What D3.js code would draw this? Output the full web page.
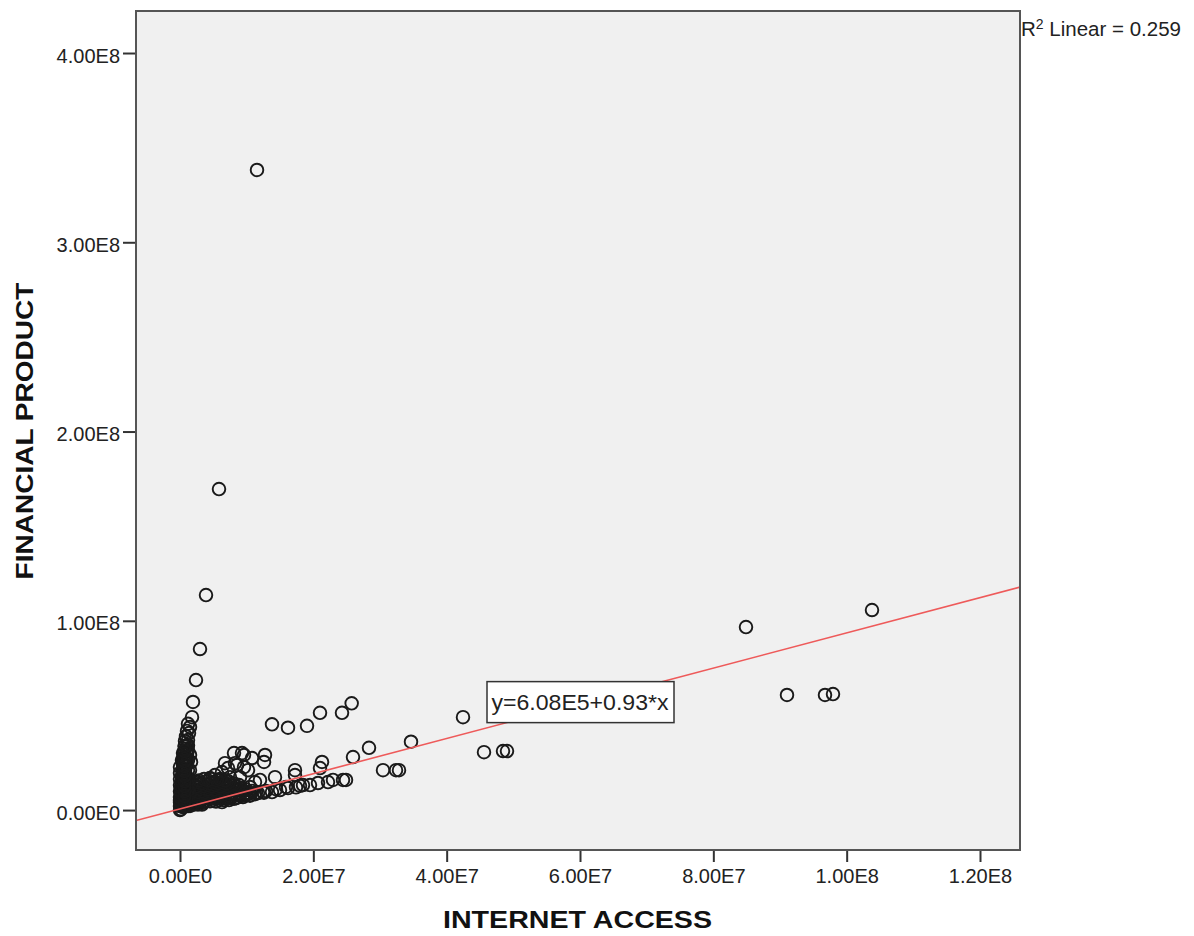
<!DOCTYPE html>
<html>
<head>
<meta charset="utf-8">
<script src="https://cdn.jsdelivr.net/npm/d3@7"></script>
<style>
  body { margin: 0; background: #fff; }
  text { font-family: "Liberation Sans", Arial, sans-serif; }
</style>
</head>
<body>
<svg id="chart" width="1194" height="936"></svg>
<script>
// values in millions: [internet access, financial product]
const outerCases = [
  [11.55, 338.2], [5.85, 169.6], [3.9, 113.6], [3.0, 85.1], [2.4, 68.7], [1.95, 57.1],
  [84.9, 96.7], [103.8, 105.7], [91.05, 60.8], [96.75, 60.8], [97.95, 61.3],
  [42.45, 49.1], [45.6, 30.6], [48.45, 31.2], [49.05, 31.2], [34.65, 36.1], [28.35, 32.9],
  [25.95, 28.0], [30.45, 21.1], [32.4, 21.1], [32.85, 21.1], [25.75, 56.4], [24.3, 51.4],
  [21.0, 51.4], [19.05, 44.5], [16.2, 43.5], [13.8, 45.3], [22.95, 15.9], [24.45, 15.9],
  [24.9, 15.9], [21.3, 25.4], [21.0, 22.2], [17.25, 21.1], [17.25, 18.5], [14.25, 17.4],
  [18.45, 13.2], [19.5, 13.2], [16.2, 11.6], [15.0, 10.6], [13.8, 9.5], [12.45, 9.5],
  [11.25, 14.8], [12.0, 15.9], [10.5, 12.2], [11.7, 9.0], [10.5, 7.9], [9.45, 6.9],
  [8.4, 6.3], [7.35, 5.3], [6.3, 4.2], [17.4, 12.0], [20.7, 14.3],
  [9.9, 8.0], [12.9, 10.1], [14.4, 11.0], [15.9, 12.2], [18.0, 12.8], [22.2, 14.8]
];
const spineCases = [
  [1.8, 49.1], [1.5, 43.9], [1.35, 40.7], [1.2, 37.0], [1.2, 34.3], [1.05, 31.7], [1.05, 29.6],
  [0.9, 27.5], [0.9, 25.4], [0.9, 23.2], [0.75, 21.1], [0.75, 19.6], [0.75, 18.0], [0.6, 16.4],
  [0.6, 14.8], [0.6, 13.2], [0.45, 11.6], [0.45, 10.0], [0.45, 8.5], [0.3, 6.9], [0.3, 5.3],
  [0.3, 3.7], [0.15, 2.1], [0.15, 0.5], [0.3, 26.4], [0.45, 21.1], [0.3, 15.9], [0.15, 10.6],
  [0, 5.3], [0, 0], [0.15, 7.9], [0.6, 23.8], [1.05, 34.3], [0, 2.1], [0, 4.2], [0.15, 6.3],
  [0.15, 9.0], [0.15, 12.2], [0.3, 14.3], [0.3, 18.0], [0.45, 24.3], [0.6, 27.5], [0.6, 30.7],
  [0.75, 33.8], [1.35, 10.6], [1.5, 15.9], [1.5, 21.1], [1.65, 25.4], [1.5, 29.1],
  [0.45, 1.6], [0.45, 4.8], [0.45, 7.9], [0.45, 11.1], [0.45, 14.3], [0.45, 17.4], [0.45, 20.6],
  [0.45, 23.8], [0.45, 26.9], [0.45, 30.1], [0.9, 2.6], [0.9, 5.8], [0.9, 9.0], [0.9, 12.2],
  [0.9, 15.3], [0.9, 18.5], [0, 6.9], [0, 10.0], [0, 13.2], [0, 16.4], [0, 19.6], [0, 22.7],
  [0.75, 36.5], [0.9, 39.0], [1.05, 41.8], [1.2, 45.6],
  [1.2, 10.6], [1.2, 15.9], [1.2, 21.1], [1.2, 26.4], [1.2, 31.7],
  [0.68, 2.1], [0.68, 4.8], [0.68, 7.4], [0.68, 10.0], [0.68, 12.7], [0.68, 15.3], [0.68, 18.0],
  [0.68, 20.6], [0.68, 23.2], [0.68, 25.9], [0.68, 28.5], [0.68, 31.2], [0.68, 33.8]
];
const ringCases = [
  [8.1, 30.1], [9.3, 30.1], [10.8, 27.5], [12.75, 29.1], [12.6, 25.4], [6.75, 24.8],
  [8.25, 24.8], [9.6, 22.7], [6.3, 20.1], [7.5, 17.4], [9.0, 17.4], [9.6, 29.1],
  [8.55, 23.8], [7.2, 22.2], [10.2, 21.1], [5.25, 18.5], [4.5, 16.9], [6.0, 15.9]
];
const wedgeCases = [
  [0.6, 2.1], [1.2, 2.1], [1.5, 2.2],
  [0.3, 2.9], [0.9, 2.9], [1.5, 3.0], [2.1, 2.9], [2.7, 3.0], [3.3, 2.9],
  [0.9, 3.7], [1.65, 3.7], [2.55, 3.6], [3.45, 3.8],
  [0.45, 4.5], [1.2, 4.5], [1.95, 4.6], [2.7, 4.5], [3.6, 4.5], [4.5, 4.6], [5.4, 4.5],
  [0.75, 5.3], [1.5, 5.2], [2.25, 5.3], [3.15, 5.4], [4.05, 5.2], [4.95, 5.3], [5.85, 5.4], [6.6, 5.2],
  [0.6, 6.1], [1.35, 6.1], [2.25, 6.2], [3.3, 6.1], [4.35, 6.1], [5.4, 6.2], [6.3, 6.1], [7.2, 6.1], [8.1, 6.0],
  [1.05, 6.9], [1.95, 6.8], [2.85, 6.9], [3.9, 7.0], [4.8, 6.8], [5.7, 6.9], [6.75, 6.9], [7.65, 7.0], [8.7, 6.8],
  [0.75, 7.7], [1.5, 7.7], [2.4, 7.8], [3.3, 7.7], [4.2, 7.7], [5.1, 7.8], [6.15, 7.7], [7.2, 7.7], [8.25, 7.8], [9.45, 7.7], [10.5, 7.6],
  [0.9, 8.4], [1.8, 8.5], [2.7, 8.4], [3.6, 8.5], [4.65, 8.4], [5.55, 8.6], [6.6, 8.4], [7.8, 8.5], [9.0, 8.4], [10.2, 8.5], [11.25, 8.4],
  [0.9, 9.3], [1.8, 9.2], [2.85, 9.3], [3.75, 9.2], [4.8, 9.3], [5.85, 9.2], [6.9, 9.3], [7.95, 9.2], [9.0, 9.3], [10.2, 9.2], [11.4, 9.3], [12.6, 9.2],
  [1.2, 10.0], [2.25, 10.1], [3.3, 10.0], [4.2, 10.1], [5.25, 10.0], [6.3, 10.1], [7.35, 10.0], [8.4, 10.1], [9.6, 10.0], [10.8, 10.1],
  [1.05, 10.8], [2.1, 10.8], [3.0, 10.9], [4.05, 10.8], [5.1, 10.8], [6.3, 10.9], [7.5, 10.8], [8.7, 10.8], [9.9, 10.9],
  [1.5, 11.6], [2.55, 11.7], [3.6, 11.6], [4.65, 11.7], [5.85, 11.6], [6.9, 11.7], [8.1, 11.6], [9.15, 11.7],
  [1.35, 12.4], [2.4, 12.4], [3.6, 12.5], [4.8, 12.4], [6.0, 12.4], [7.2, 12.5], [8.4, 12.4],
  [1.95, 13.2], [3.0, 13.3], [4.2, 13.2], [5.4, 13.2], [6.6, 13.3], [7.65, 13.2], [8.85, 13.2],
  [1.95, 14.0], [3.15, 14.0], [4.5, 14.1], [5.7, 14.0], [6.9, 14.0], [8.1, 14.1],
  [2.7, 14.8], [3.9, 14.9], [5.1, 14.8], [6.3, 14.8], [7.35, 14.9],
  [2.85, 15.6], [4.2, 15.6], [5.55, 15.7], [6.75, 15.6],
  [3.6, 16.4], [4.8, 16.3], [6.0, 16.4]
];

const xTicks = [0, 2e7, 4e7, 6e7, 8e7, 1e8, 1.2e8];
const xTickLabels = ["0.00E0", "2.00E7", "4.00E7", "6.00E7", "8.00E7", "1.00E8", "1.20E8"];
const yTicks = [0, 1e8, 2e8, 3e8, 4e8];
const yTickLabels = ["0.00E0", "1.00E8", "2.00E8", "3.00E8", "4.00E8"];
const fitIntercept = 6.08e5;
const fitSlope = 0.93;
const rSquared = "0.259";
const fitLabel = "y=6.08E5+0.93*x";

const cases = outerCases.concat(ringCases, wedgeCases, spineCases);

const plot = { left: 136, right: 1020, top: 11, bottom: 850 };

const svg = d3.select("#chart");

const x = d3.scaleLinear().domain([-6.6e6, 1.26e8]).range([plot.left, plot.right]);
const y = d3.scaleLinear().domain([-2.11e7, 4.222e8]).range([plot.bottom, plot.top]);

svg.append("defs").append("clipPath").attr("id", "plotClip")
  .append("rect")
  .attr("x", plot.left).attr("y", plot.top)
  .attr("width", plot.right - plot.left).attr("height", plot.bottom - plot.top);

// plot background
svg.append("rect")
  .attr("x", plot.left).attr("y", plot.top)
  .attr("width", plot.right - plot.left).attr("height", plot.bottom - plot.top)
  .attr("fill", "#f0f0f0");

// axes
const yAxis = svg.append("g")
  .attr("transform", `translate(${plot.left},0)`)
  .call(d3.axisLeft(y).tickValues(yTicks).tickFormat((d, i) => yTickLabels[i]).tickSize(13).tickPadding(3));
const xAxis = svg.append("g")
  .attr("transform", `translate(0,${plot.bottom})`)
  .call(d3.axisBottom(x).tickValues(xTicks).tickFormat((d, i) => xTickLabels[i]).tickSize(12).tickPadding(7));

[xAxis, yAxis].forEach(a => {
  a.select(".domain").remove();
  a.selectAll(".tick line").attr("stroke", "#333").attr("stroke-width", 2);
  a.selectAll(".tick text").attr("font-size", 20).attr("fill", "#222")
    .attr("font-family", "'Liberation Sans', Arial, sans-serif");
});
yAxis.selectAll(".tick text").attr("dy", "0.45em");

const g = svg.append("g").attr("clip-path", "url(#plotClip)");

// points
g.append("g")
  .selectAll("circle")
  .data(cases)
  .enter()
  .append("circle")
  .attr("cx", d => x(d[0] * 1e6))
  .attr("cy", d => y(d[1] * 1e6))
  .attr("r", 6.3)
  .attr("fill", "none")
  .attr("stroke", "#1a1a1a")
  .attr("stroke-width", 1.9);

// fit line
const [x0, x1] = x.domain();
g.append("line")
  .attr("x1", x(x0)).attr("y1", y(fitIntercept + fitSlope * x0))
  .attr("x2", x(x1)).attr("y2", y(fitIntercept + fitSlope * x1))
  .attr("stroke", "#ee5a5a")
  .attr("stroke-width", 1.6);

// frame
svg.append("rect")
  .attr("x", plot.left).attr("y", plot.top)
  .attr("width", plot.right - plot.left).attr("height", plot.bottom - plot.top)
  .attr("fill", "none")
  .attr("stroke", "#555")
  .attr("stroke-width", 2);

// equation label
const eq = svg.append("g").attr("transform", `translate(${x(6.0e7)},${y(5.73e7)})`);
eq.append("rect")
  .attr("x", -93).attr("y", -20)
  .attr("width", 187).attr("height", 41)
  .attr("fill", "#fff")
  .attr("stroke", "#333")
  .attr("stroke-width", 1.5);
eq.append("text")
  .attr("text-anchor", "middle")
  .attr("y", 8)
  .attr("font-size", 22)
  .attr("fill", "#222")
  .attr("textLength", 177)
  .attr("lengthAdjust", "spacingAndGlyphs")
  .text(fitLabel);

// R squared
const r2 = svg.append("text")
  .attr("x", plot.right + 1)
  .attr("y", 36)
  .attr("font-size", 20.5)
  .attr("fill", "#222");
r2.append("tspan").text("R");
r2.append("tspan").attr("font-size", 14).attr("dy", -7).text("2");
r2.append("tspan").attr("dy", 7).text(" Linear = " + rSquared);

// axis titles
svg.append("text")
  .attr("x", 577.5)
  .attr("y", 928)
  .attr("text-anchor", "middle")
  .attr("font-size", 24)
  .attr("font-weight", "bold")
  .attr("fill", "#111")
  .attr("textLength", 269)
  .attr("lengthAdjust", "spacingAndGlyphs")
  .text("INTERNET ACCESS");

svg.append("text")
  .attr("transform", "translate(33,431) rotate(-90)")
  .attr("text-anchor", "middle")
  .attr("font-size", 23)
  .attr("font-weight", "bold")
  .attr("fill", "#111")
  .attr("textLength", 297)
  .attr("lengthAdjust", "spacingAndGlyphs")
  .text("FINANCIAL PRODUCT");
</script>
</body>
</html>
